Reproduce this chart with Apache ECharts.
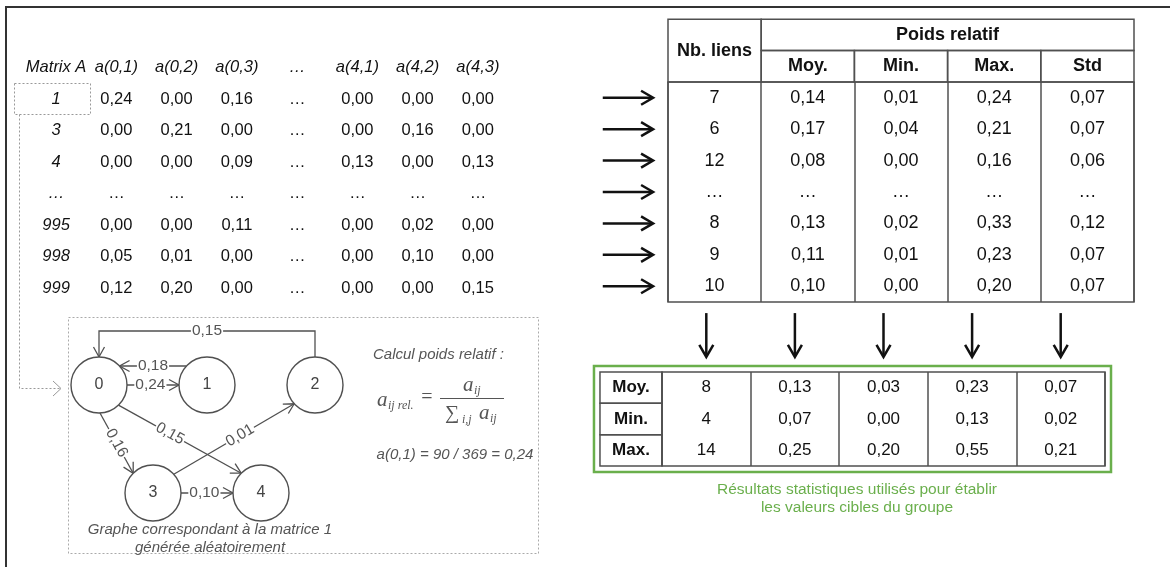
<!DOCTYPE html>
<html><head><meta charset="utf-8">
<script src="https://cdn.jsdelivr.net/npm/echarts/dist/echarts.min.js"></script>
<style>html,body{margin:0;padding:0;background:#fff}#c{width:1170px;height:567px}</style>
</head><body><div id="c"></div>
<script>
// ---------------- DATA ----------------
const matrixCols = ['Matrix A', 'a(0,1)', 'a(0,2)', 'a(0,3)', '…', 'a(4,1)', 'a(4,2)', 'a(4,3)'];
const matrixIds = ['1', '3', '4', '…', '995', '998', '999'];
const a01 = [0.24, 0.00, 0.00, null, 0.00, 0.05, 0.12];
const a02 = [0.00, 0.21, 0.00, null, 0.00, 0.01, 0.20];
const a03 = [0.16, 0.00, 0.09, null, 0.11, 0.00, 0.00];
const a41 = [0.00, 0.00, 0.13, null, 0.00, 0.00, 0.00];
const a42 = [0.00, 0.16, 0.00, null, 0.02, 0.10, 0.00];
const a43 = [0.00, 0.00, 0.13, null, 0.00, 0.00, 0.15];

const groupHeader = 'Poids relatif';
const statCols = ['Nb. liens', 'Moy.', 'Min.', 'Max.', 'Std'];
const nbLiens  = [7, 6, 12, null, 8, 9, 10];
const poidsMoy = [0.14, 0.17, 0.08, null, 0.13, 0.11, 0.10];
const poidsMin = [0.01, 0.04, 0.00, null, 0.02, 0.01, 0.00];
const poidsMax = [0.24, 0.21, 0.16, null, 0.33, 0.23, 0.20];
const poidsStd = [0.07, 0.07, 0.06, null, 0.12, 0.07, 0.07];

const summaryRows = ['Moy.', 'Min.', 'Max.'];
const sumNb  = [8, 4, 14];
const sumMoy = [0.13, 0.07, 0.25];
const sumMin = [0.03, 0.00, 0.20];
const sumMax = [0.23, 0.13, 0.55];
const sumStd = [0.07, 0.02, 0.21];
const summaryCaption = 'Résultats statistiques utilisés pour établir\nles valeurs cibles du groupe';

const nodeNames  = ['0', '1', '2', '3', '4'];
const edgeFrom   = [2, 1, 0, 0, 0, 3, 3];
const edgeTo     = [0, 0, 1, 3, 4, 2, 4];
const edgeWeight = [0.15, 0.18, 0.24, 0.16, 0.15, 0.01, 0.10];
const graphCaption = 'Graphe correspondant à la matrice 1\ngénérée aléatoirement';
const calcTitle = 'Calcul poids relatif :';
const calcExample = 'a(0,1) = 90 / 369 = 0,24';

// ---------------- LAYOUT / STYLE ----------------
const SANS = "'Liberation Sans', Arial, Helvetica, sans-serif";
const SERIF = "'Liberation Serif', 'Times New Roman', serif";
const LINE = '#505050';
const LW = 1.5;
const GREEN = '#6aaf4c';
const GRAY_TXT = '#555';
const NODE_R = 28;
const nodeSlot = [[0, 0], [1, 0], [2, 0], [0.5, 1], [1.5, 1]];
const edgeRoute = ['over', 'straight', 'straight', 'straight', 'straight', 'straight', 'straight'];
const edgeOffset = [0, 19, 0, 0, 0, 0, 0];
// optional anchor angles (degrees, screen) on source / target circles
const edgeAnchor = [null, null, null, [88, 225], [46, 225], [-42, 138], null];
const edgeLabelAt = [0.5, 0.5, 0.45, 0.5, 0.42, 0.55, 0.45];

const dec = v => v == null ? '…' : v.toFixed(2).replace('.', ',');
const int = v => v == null ? '…' : String(v);

// matrix items
const matrixValueCols = [a01, a02, a03, null, a41, a42, a43];
const matrixItems = [];
matrixCols.forEach((h, c) => matrixItems.push({ x: c + 0.5, y: -0.5, text: h, italic: true }));
matrixIds.forEach((id, r) => {
  matrixItems.push({ x: 0.5, y: r + 0.5, text: id, italic: true });
  matrixValueCols.forEach((col, k) => matrixItems.push({ x: k + 1.5, y: r + 0.5, text: col ? dec(col[r]) : '…' }));
});

// right table items
const rtCols = [nbLiens, poidsMoy, poidsMin, poidsMax, poidsStd];
const rtItems = [];
rtItems.push({ x: 0.5, y: -1, text: statCols[0], bold: true, box: [0, -2, 1, 0] });
rtItems.push({ x: 3, y: -1.5, text: groupHeader, bold: true, box: [1, -2, 5, -1] });
for (let i = 1; i < statCols.length; i++) rtItems.push({ x: i + 0.5, y: -0.5, text: statCols[i], bold: true, box: [i, -1, i + 1, 0] });
rtCols.forEach((col, c) => col.forEach((v, r) => rtItems.push({ x: c + 0.5, y: r + 0.5, text: c === 0 ? int(v) : dec(v) })));
nbLiens.forEach((v, r) => rtItems.push({ x: 0, y: r + 0.5, arrow: [[-0.7, r + 0.5], [-0.16, r + 0.5]], arrowColor: '#111', arrowW: 2.5 }));

// bottom table items
const smCols = [sumNb, sumMoy, sumMin, sumMax, sumStd];
const smItems = [];
smItems.push({ x: 0, y: 0, box: [-0.7, 0, 5, 3], pad: 6, stroke: GREEN, lw: 2.5 });
summaryRows.forEach((h, r) => smItems.push({ x: -0.35, y: r + 0.5, text: h, bold: true, box: [-0.7, r, 0, r + 1] }));
smCols.forEach((col, c) => col.forEach((v, r) => smItems.push({ x: c + 0.5, y: r + 0.5, text: c === 0 ? int(v) : dec(v) })));
smCols.forEach((col, c) => smItems.push({ x: c + 0.5, y: -1, arrow: [[c + 0.5, -1.88], [c + 0.5, -0.48]], arrowColor: '#111', arrowW: 2.5 }));

function makeRender(items, fontSize, color) {
  return function (params, api) {
    const it = items[params.dataIndex];
    const ch = [];
    if (it.box) {
      const p0 = api.coord([it.box[0], it.box[1]]), p1 = api.coord([it.box[2], it.box[3]]);
      const x = Math.min(p0[0], p1[0]), y = Math.min(p0[1], p1[1]);
      const w = Math.abs(p1[0] - p0[0]), h = Math.abs(p1[1] - p0[1]);
      const pad = it.pad || 0;
      ch.push({ type: 'rect', shape: { x: x - pad, y: y - pad, width: w + 2 * pad, height: h + 2 * pad },
        style: { fill: 'none', stroke: it.stroke || LINE, lineWidth: it.lw || LW } });
    }
    if (it.arrow) {
      const s = api.coord(it.arrow[0]), e = api.coord(it.arrow[1]);
      const dx = e[0] - s[0], dy = e[1] - s[1], L = Math.hypot(dx, dy);
      const d = [dx / L, dy / L], n = [-d[1], d[0]];
      const hl = 12, hw = 7;
      ch.push({ type: 'line', shape: { x1: s[0], y1: s[1], x2: e[0] - d[0] * 1, y2: e[1] - d[1] * 1 },
        style: { stroke: it.arrowColor, lineWidth: it.arrowW } });
      ch.push({ type: 'polyline', shape: { points: [
        [e[0] - d[0] * hl + n[0] * hw, e[1] - d[1] * hl + n[1] * hw], e,
        [e[0] - d[0] * hl - n[0] * hw, e[1] - d[1] * hl - n[1] * hw]] },
        style: { fill: 'none', stroke: it.arrowColor, lineWidth: it.arrowW, lineJoin: 'miter' } });
    }
    if (it.text != null) {
      const p = api.coord([it.x, it.y]);
      ch.push({ type: 'text', x: p[0], y: p[1], style: {
        text: it.text, font: (it.italic ? 'italic ' : '') + (it.bold ? 'bold ' : '') + fontSize + 'px ' + SANS,
        fill: color, align: 'center', verticalAlign: 'middle' } });
    }
    return { type: 'group', children: ch };
  };
}

function edgeRender(params, api) {
  const i = params.dataIndex;
  const ps = api.coord(nodeSlot[edgeFrom[i]]), pt = api.coord(nodeSlot[edgeTo[i]]);
  const R = NODE_R, ch = [];
  let lab, ang = 0, end, dir;
  if (edgeRoute[i] === 'over') {
    const top = Math.min(ps[1], pt[1]) - R - 26;
    const pts = [[ps[0], ps[1] - R], [ps[0], top], [pt[0], top], [pt[0], pt[1] - R]];
    ch.push({ type: 'polyline', shape: { points: pts }, style: { fill: 'none', stroke: LINE, lineWidth: 1.3 } });
    end = pts[3]; dir = [0, 1];
    lab = [(ps[0] + pt[0]) / 2, top];
  } else {
    let s;
    if (edgeAnchor[i]) {
      const a0 = edgeAnchor[i][0] * Math.PI / 180, a1 = edgeAnchor[i][1] * Math.PI / 180;
      s = [ps[0] + R * Math.cos(a0), ps[1] + R * Math.sin(a0)];
      end = [pt[0] + R * Math.cos(a1), pt[1] + R * Math.sin(a1)];
      const dx = end[0] - s[0], dy = end[1] - s[1], L = Math.hypot(dx, dy);
      dir = [dx / L, dy / L];
    } else {
      const dx = pt[0] - ps[0], dy = pt[1] - ps[1], L = Math.hypot(dx, dy);
      dir = [dx / L, dy / L];
      const n = [-dir[1], dir[0]];
      const d = edgeOffset[i], a = Math.sqrt(R * R - d * d);
      s = [ps[0] + n[0] * d + dir[0] * a, ps[1] + n[1] * d + dir[1] * a];
      end = [pt[0] + n[0] * d - dir[0] * a, pt[1] + n[1] * d - dir[1] * a];
    }
    ch.push({ type: 'line', shape: { x1: s[0], y1: s[1], x2: end[0], y2: end[1] }, style: { stroke: LINE, lineWidth: 1.3 } });
    const f = edgeLabelAt[i];
    lab = [s[0] + (end[0] - s[0]) * f, s[1] + (end[1] - s[1]) * f];
    ang = Math.atan2(dir[1], dir[0]);
    if (ang > Math.PI / 2) ang -= Math.PI;
    if (ang < -Math.PI / 2) ang += Math.PI;
    ang = -ang;
  }
  const n2 = [-dir[1], dir[0]], hl = 10, hw = 5.5;
  ch.push({ type: 'polyline', shape: { points: [
    [end[0] - dir[0] * hl + n2[0] * hw, end[1] - dir[1] * hl + n2[1] * hw], end,
    [end[0] - dir[0] * hl - n2[0] * hw, end[1] - dir[1] * hl - n2[1] * hw]] },
    style: { fill: 'none', stroke: LINE, lineWidth: 1.3 } });
  ch.push({ type: 'text', x: lab[0], y: lab[1], rotation: ang, style: {
    text: dec(edgeWeight[i]), font: '15.5px ' + SANS, fill: GRAY_TXT, align: 'center', verticalAlign: 'middle',
    backgroundColor: '#fff', padding: [0, 1] } });
  return { type: 'group', children: ch };
}

const hiddenAxis = (idx, min, max, inverse) => ({ type: 'value', gridIndex: idx, min, max, inverse: !!inverse, show: false });
const splitAxis = (idx, max) => ({ type: 'value', gridIndex: idx, min: 0, max, interval: 1,
  axisLine: { show: false }, axisTick: { show: false }, axisLabel: { show: false },
  splitLine: { show: true, lineStyle: { color: LINE, width: LW } } });

const chart = echarts.init(document.getElementById('c'), null, { renderer: 'canvas' });
chart.setOption({
  animation: false,
  backgroundColor: '#fff',
  grid: [
    { left: 26, top: 83.5, width: 482, height: 220.5, show: false },
    { left: 668, top: 82, width: 466, height: 220, show: true, borderColor: LINE, borderWidth: LW, backgroundColor: 'transparent' },
    { left: 662, top: 372, width: 443, height: 94, show: true, borderColor: LINE, borderWidth: LW, backgroundColor: 'transparent' },
    { left: 99, top: 385, width: 216, height: 108, show: false }
  ],
  xAxis: [hiddenAxis(0, 0, 8), splitAxis(1, 5), splitAxis(2, 5), hiddenAxis(3, 0, 2)],
  yAxis: [hiddenAxis(0, 0, 7, true), hiddenAxis(1, 0, 7, true), hiddenAxis(2, 0, 3, true), hiddenAxis(3, 0, 1, true)],
  series: [
    { type: 'custom', xAxisIndex: 0, yAxisIndex: 0, clip: false, renderItem: makeRender(matrixItems, 16.5, '#111'),
      data: matrixItems.map(it => [it.x, it.y]) },
    { type: 'custom', xAxisIndex: 1, yAxisIndex: 1, clip: false, renderItem: makeRender(rtItems, 18, '#111'),
      data: rtItems.map(it => [it.x, it.y]) },
    { type: 'custom', xAxisIndex: 2, yAxisIndex: 2, clip: false, renderItem: makeRender(smItems, 17, '#111'),
      data: smItems.map(it => [it.x, it.y]) },
    { type: 'custom', xAxisIndex: 3, yAxisIndex: 3, clip: false, renderItem: edgeRender, z: 2,
      data: edgeFrom.map(() => [0, 0]) },
    { type: 'scatter', xAxisIndex: 3, yAxisIndex: 3, z: 3, symbol: 'circle', symbolSize: NODE_R * 2,
      itemStyle: { color: '#fff', borderColor: LINE, borderWidth: 1.4, opacity: 1 },
      label: { show: true, position: 'inside', formatter: '{b}', fontSize: 16, color: '#444', fontFamily: SANS },
      emphasis: { disabled: true },
      data: nodeNames.map((nm, i) => ({ name: nm, value: nodeSlot[i] })) }
  ],
  graphic: { elements: [
    { type: 'polyline', shape: { points: [[6, 567], [6, 7], [1170, 7]] }, style: { fill: 'none', stroke: '#333', lineWidth: 2 } },
    { type: 'rect', shape: { x: 14.5, y: 83.5, width: 76, height: 31 }, style: { fill: 'none', stroke: '#999', lineWidth: 1, lineDash: [2, 2] } },
    { type: 'polyline', shape: { points: [[19.5, 114.5], [19.5, 388.5], [61, 388.5]] }, style: { fill: 'none', stroke: '#999', lineWidth: 1, lineDash: [2, 2] } },
    { type: 'polyline', shape: { points: [[53, 381], [61, 388.5], [53, 396]] }, style: { fill: 'none', stroke: '#999', lineWidth: 1 } },
    { type: 'rect', shape: { x: 68.5, y: 317.5, width: 470, height: 236 }, style: { fill: 'none', stroke: '#aaa', lineWidth: 1, lineDash: [2, 2] } },
    { type: 'text', x: 373, y: 355, style: { text: calcTitle, font: 'italic 15px ' + SANS, fill: GRAY_TXT, align: 'left', verticalAlign: 'middle' } },
    { type: 'text', x: 377, y: 400, style: { text: 'a', font: 'italic 21px ' + SERIF, fill: GRAY_TXT, align: 'left', verticalAlign: 'middle' } },
    { type: 'text', x: 388, y: 406, style: { text: 'ij rel.', font: 'italic 12px ' + SERIF, fill: GRAY_TXT, align: 'left', verticalAlign: 'middle' } },
    { type: 'text', x: 427, y: 398, style: { text: '=', font: '20px ' + SERIF, fill: GRAY_TXT, align: 'center', verticalAlign: 'middle' } },
    { type: 'line', shape: { x1: 440, y1: 398.5, x2: 504, y2: 398.5 }, style: { stroke: GRAY_TXT, lineWidth: 1 } },
    { type: 'text', x: 463, y: 385, style: { text: 'a', font: 'italic 21px ' + SERIF, fill: GRAY_TXT, align: 'left', verticalAlign: 'middle' } },
    { type: 'text', x: 474, y: 391, style: { text: 'ij', font: 'italic 12px ' + SERIF, fill: GRAY_TXT, align: 'left', verticalAlign: 'middle' } },
    { type: 'text', x: 445, y: 414, style: { text: '∑', font: '20px ' + SERIF, fill: GRAY_TXT, align: 'left', verticalAlign: 'middle' } },
    { type: 'text', x: 462, y: 420, style: { text: 'i,j', font: 'italic 12px ' + SERIF, fill: GRAY_TXT, align: 'left', verticalAlign: 'middle' } },
    { type: 'text', x: 479, y: 413, style: { text: 'a', font: 'italic 21px ' + SERIF, fill: GRAY_TXT, align: 'left', verticalAlign: 'middle' } },
    { type: 'text', x: 490, y: 419, style: { text: 'ij', font: 'italic 12px ' + SERIF, fill: GRAY_TXT, align: 'left', verticalAlign: 'middle' } },
    { type: 'text', x: 455, y: 455, style: { text: calcExample, font: 'italic 15px ' + SANS, fill: GRAY_TXT, align: 'center', verticalAlign: 'middle' } },
    { type: 'text', x: 210, y: 539, style: { text: graphCaption, font: 'italic 15px ' + SANS, lineHeight: 18, fill: GRAY_TXT, align: 'center', verticalAlign: 'middle' } },
    { type: 'text', x: 857, y: 499, style: { text: summaryCaption, font: '15.5px ' + SANS, lineHeight: 18, fill: GREEN, align: 'center', verticalAlign: 'middle' } }
  ] }
});
</script>
</body></html>
